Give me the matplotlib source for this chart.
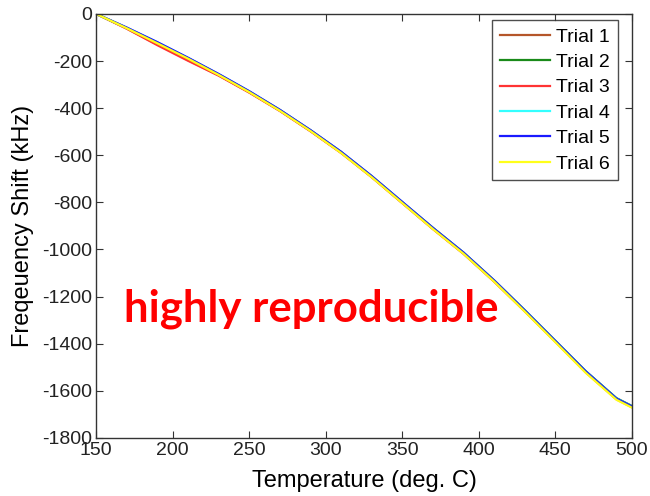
import matplotlib
matplotlib.use("Agg")
import matplotlib.pyplot as plt

# temperature grid (deg. C), shared by all trials
temperature = [150, 170, 190, 210, 230, 250, 270, 290, 310, 330, 350,
               370, 390, 410, 430, 450, 470, 490, 500]

# frequency shift (kHz) for each trial
trial_1 = [0, -62, -130, -196, -261, -333, -411, -497, -589, -692, -802,
           -912, -1017, -1135, -1261, -1390, -1520, -1634, -1667]
trial_2 = [0, -60, -123, -188, -257, -330, -408, -494, -586, -689, -799,
           -908, -1013, -1131, -1257, -1387, -1517, -1631, -1664]
trial_3 = [0, -63, -133, -199, -262, -334, -412, -498, -590, -693, -803,
           -913, -1018, -1136, -1262, -1391, -1522, -1636, -1669]
trial_4 = [0, -59, -121, -187, -256, -329, -408, -494, -586, -689, -799,
           -909, -1014, -1132, -1258, -1388, -1518, -1633, -1666]
trial_5 = [0, -58, -120, -186, -255, -328, -407, -493, -585, -688, -798,
           -908, -1013, -1131, -1258, -1388, -1518, -1633, -1666]
trial_6 = [0, -61, -125, -190, -259, -332, -411, -497, -590, -693, -803,
           -913, -1018, -1136, -1263, -1393, -1524, -1638, -1671]

trials = [trial_1, trial_2, trial_3, trial_4, trial_5, trial_6]
labels = ["Trial 1", "Trial 2", "Trial 3", "Trial 4", "Trial 5", "Trial 6"]
colors = ["#b5562a", "#1a8a1a", "#ff3333", "#33ffff", "#1a1aff", "#ffff1a"]

plt.rcParams["font.family"] = ["Liberation Sans", "DejaVu Sans"]
plt.rcParams["axes.unicode_minus"] = False

fig = plt.figure(figsize=(6.5, 4.96), dpi=100)
ax = fig.add_axes([0.148, 0.117, 0.824, 0.855])

for vals, lab, col in zip(trials, labels, colors):
    ax.plot(temperature, vals, color=col, lw=1.6, label=lab)

ax.set_xlim(150, 500)
ax.set_ylim(-1800, 0)
ax.set_xticks(range(150, 501, 50))
ax.set_yticks(range(-1800, 1, 200))
ax.tick_params(direction="in", top=True, right=True, labelsize=14, length=5,
               color="#333333", labelcolor="#222222", pad=3)
for sp in ax.spines.values():
    sp.set_color("#333333")
    sp.set_linewidth(1.0)

ax.set_xlabel("Temperature (deg. C)", fontsize=17, labelpad=8)
ax.set_ylabel("Freqeuency Shift (kHz)", fontsize=17, labelpad=6)

leg = ax.legend(loc="upper right", fontsize=14, frameon=True, fancybox=False,
                handlelength=2.6, handletextpad=0.3, labelspacing=0.4,
                borderpad=0.4, borderaxespad=0,
                bbox_to_anchor=(0.974, 0.985))
leg.get_frame().set_edgecolor("#222222")
leg.get_frame().set_linewidth(1.0)

ax.text(0.402, 0.305, "highly reproducible", transform=ax.transAxes,
        color="#ff0000", fontsize=31.5, fontweight="bold", family="Lato",
        ha="center", va="center")

fig.savefig("out.png", dpi=100)
